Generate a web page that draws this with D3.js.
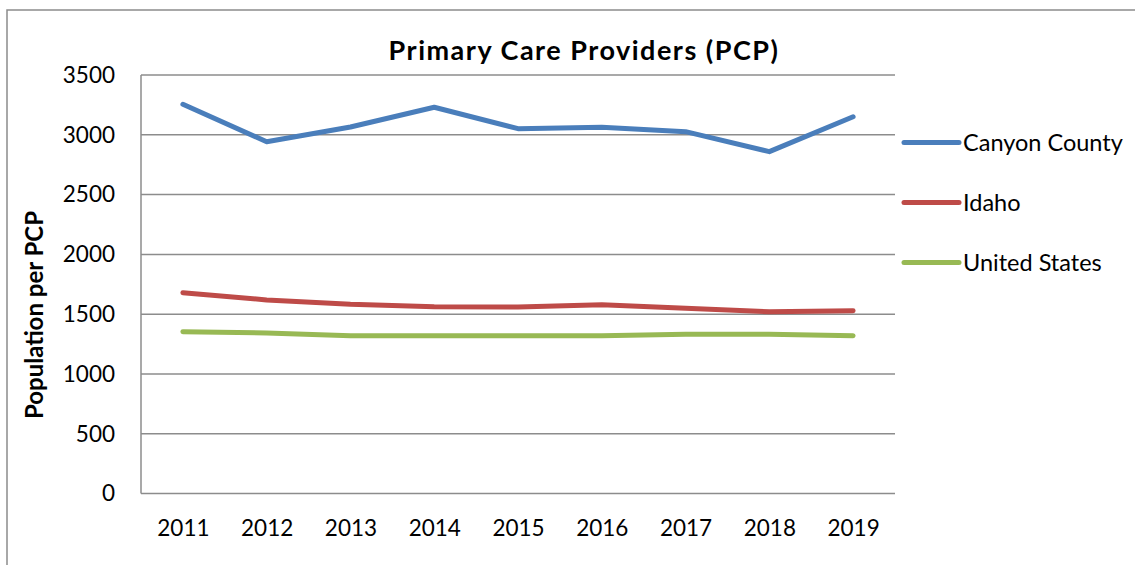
<!DOCTYPE html>
<html>
<head>
<meta charset="utf-8">
<script src="https://cdn.jsdelivr.net/npm/d3@7"></script>
<style>
  html, body { margin: 0; padding: 0; background: #fff; }
  svg { display: block; font-family: Lato, "Open Sans", sans-serif; }
</style>
</head>
<body>
<svg id="chart" width="1135" height="565"></svg>
<script>
// Population per primary care provider, 2011–2019
const years = ["2011", "2012", "2013", "2014", "2015", "2016", "2017", "2018", "2019"];
const canyonCounty = [3255, 2942, 3065, 3230, 3051, 3063, 3026, 2859, 3151];
const idaho = [1680, 1619, 1583, 1563, 1560, 1580, 1549, 1521, 1529];
const unitedStates = [1354, 1343, 1320, 1320, 1320, 1320, 1332, 1332, 1320];
const yTicks = [0, 500, 1000, 1500, 2000, 2500, 3000, 3500];

const series = [
  { name: "Canyon County", values: canyonCounty, color: "#4a7ebb" },
  { name: "Idaho", values: idaho, color: "#be4b48" },
  { name: "United States", values: unitedStates, color: "#98b954" }
];

const svg = d3.select("#chart");
const plot = { left: 141, right: 895, top: 75, bottom: 493.6 };
const gridColor = "#8c8c8c";

// outer frame (top and left edges)
svg.append("path")
  .attr("d", "M7,565 L7,10 L1135,10")
  .attr("fill", "none")
  .attr("stroke", gridColor)
  .attr("stroke-width", 1.5);

const x = d3.scalePoint().domain(years).range([plot.left, plot.right]).padding(0.5);
const y = d3.scaleLinear().domain([0, 3500]).range([plot.bottom, plot.top]);

// horizontal gridlines
svg.append("g")
  .selectAll("line")
  .data(yTicks)
  .join("line")
  .attr("x1", plot.left).attr("x2", plot.right)
  .attr("y1", d => y(d)).attr("y2", d => y(d))
  .attr("stroke", gridColor).attr("stroke-width", 1.5);

// left axis line
svg.append("line")
  .attr("x1", plot.left).attr("x2", plot.left)
  .attr("y1", plot.top).attr("y2", plot.bottom)
  .attr("stroke", gridColor).attr("stroke-width", 1.5);

// y tick labels
const yAxis = d3.axisLeft(y).tickValues(yTicks).tickFormat(d3.format("d")).tickSize(0).tickPadding(26);
const gy = svg.append("g").attr("transform", `translate(${plot.left},0)`).call(yAxis);
gy.select(".domain").remove();
gy.selectAll("text").attr("font-size", 22.5).attr("font-family", "Lato, sans-serif").attr("fill", "#000");

// x tick labels
const xAxis = d3.axisBottom(x).tickSize(0).tickPadding(26);
const gx = svg.append("g").attr("transform", `translate(0,${plot.bottom})`).call(xAxis);
gx.select(".domain").remove();
gx.selectAll("text").attr("font-size", 22.5).attr("font-family", "Lato, sans-serif").attr("fill", "#000");

// series lines
const line = d3.line()
  .x((d, i) => x(years[i]))
  .y(d => y(d));

svg.append("g")
  .selectAll("path")
  .data(series)
  .join("path")
  .attr("d", d => line(d.values))
  .attr("fill", "none")
  .attr("stroke", d => d.color)
  .attr("stroke-width", 5)
  .attr("stroke-linecap", "round")
  .attr("stroke-linejoin", "round");

// title
svg.append("text")
  .attr("x", 584).attr("y", 60)
  .attr("text-anchor", "middle")
  .attr("font-size", 27).attr("font-weight", "bold")
  .attr("letter-spacing", 1.5)
  .text("Primary Care Providers (PCP)");

// y axis title
svg.append("text")
  .attr("transform", "translate(43,315) rotate(-90)")
  .attr("text-anchor", "middle")
  .attr("font-size", 24).attr("font-weight", "bold")
  .text("Population per PCP");

// legend
const legend = svg.append("g")
  .selectAll("g")
  .data(series)
  .join("g")
  .attr("transform", (d, i) => `translate(904,${142.5 + i * 60})`);

legend.append("line")
  .attr("x1", 0).attr("x2", 55)
  .attr("stroke", d => d.color)
  .attr("stroke-width", 5)
  .attr("stroke-linecap", "round");

legend.append("text")
  .attr("x", 59).attr("dy", "0.35em")
  .attr("font-size", 23.5)
  .text(d => d.name);
</script>
</body>
</html>
